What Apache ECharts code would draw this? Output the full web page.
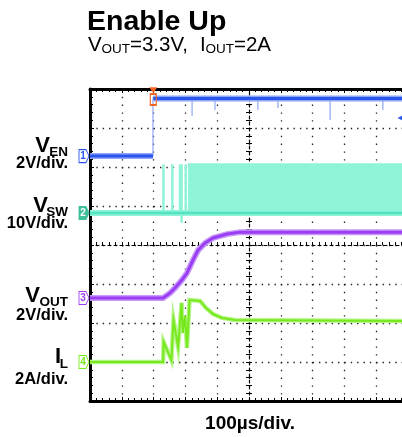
<!DOCTYPE html>
<html><head><meta charset="utf-8">
<script src="https://cdn.jsdelivr.net/npm/echarts@6/dist/echarts.min.js"></script>
<style>html,body{margin:0;padding:0;background:#fff}#c{width:402px;height:437px}</style>
</head><body><div id="c"></div>
<script>
// ---- data (time in µs from the left edge of the screen, 100 µs/div) ----
const venTrace   = [[0,0],[198,0],[198,'-'],[199,2.95],[1000,2.95]];          // V
const venThin    = [[198,0],[198,2.95],[198,'-'],[321,2.95],[321,2.05],[321,'-'],[393,2.95],[393,2.36],[393,'-'],
                    [528,2.95],[528,2.36],[528,'-'],[591,2.95],[591,2.46],[591,'-'],[755,2.95],[755,1.85],[755,'-'],[921,2.95],[921,2.36]];
const vswTrace   = [[0,0],[1000,0]];                                             // V
const vswSpikes  = [[231,0],[231,12.5],[231,'-'],[259,0],[259,12.5],[259,'-'],[283,0],[283,12.5],[283,'-'],
                    [288,-2.5],[288,12.5],[288,'-'],[301,0],[301,12.5]];
const vswBand    = [[308,12.5],[1000,12.5]];
const voutTrace  = [[0,0],[230,0],[252,0.26],[267,0.51],[289,0.92],[305,1.28],[324,1.95],[340,2.46],[362,2.82],
                    [387,3.08],[431,3.28],[472,3.38],[1000,3.38]];               // V
const ilTrace    = [[0,0],[230,0],[231.5,1.03],[256,0.10],[262.6,2.15],[277,0.77],[288,3.03],[292,1.49],[299,2.36],
                    [305,0.72],[313,3.18],[346,3.13],[365,2.77],[387,2.46],[415,2.26],[456,2.15],[1000,2.1]]; // A
const trigLevel  = [[978,1.95]];
const trigPos    = [[199,3.38],[199,2.9]];
const xTicks     = [0,1000,100];   // min, max, 100 µs/div

// ---- channel setup: position (div from centre) and scale (unit/div) ----
const chans = [
  {name:'1', off:2.28, scale:2,  color:'#2a56ee', light:'#8ea6f6'},
  {name:'2', off:0.82, scale:10, color:'#55e2c0', light:'#8ef3d7'},
  {name:'3', off:-1.36,scale:2,  color:'#9b3df2', light:'#c79af8'},
  {name:'4', off:-3.0, scale:2,  color:'#77e81c', light:'#b6f58a'}
];
const FONT = '"Liberation Sans", Arial, sans-serif';

const chart = echarts.init(document.getElementById('c'), null, {renderer:'canvas'});

const dotGridX = {show:true, lineStyle:{color:'#222', width:1.3, type:[1.4,6.4]}};
const dotGridY = {show:true, lineStyle:{color:'#222', width:1.3, type:[1.4,4.96]}};

function frameX(pos, extra){
  return Object.assign({type:'value', min:xTicks[0], max:xTicks[1], interval:xTicks[2], position:pos,
    axisLine:{show:true, onZero:false, lineStyle:{color:'#000', width:3}},
    axisTick:{show:true, inside:true, length:4, lineStyle:{color:'#000', width:1}},
    minorTick:{show:true, splitNumber:5, length:3, lineStyle:{color:'#000', width:1}},
    axisLabel:{show:false}, splitLine:{show:false}}, extra||{});
}
function frameY(pos, extra){
  return Object.assign({type:'value', min:-4, max:4, interval:1, position:pos,
    axisLine:{show:true, onZero:false, lineStyle:{color:'#000', width:3}},
    axisTick:{show:true, inside:true, length:4, lineStyle:{color:'#000', width:1}},
    minorTick:{show:true, splitNumber:5, length:3, lineStyle:{color:'#000', width:1}},
    axisLabel:{show:false}, splitLine:{show:false}}, extra||{});
}
const centreLine = {show:true, onZero:false, lineStyle:{color:'#000', width:1.2, type:[3,3]}};

const xAxes = [
  frameX('bottom', {splitLine:dotGridX}),
  frameX('top'),
  frameX('bottom', {offset:-156, axisLine:centreLine, axisTick:{show:true,inside:true,length:3,lineStyle:{color:'#000'}}, minorTick:{show:true,splitNumber:5,length:3,lineStyle:{color:'#000'}}}),
  frameX('top',    {offset:-156, axisLine:{show:false,onZero:false}, axisTick:{show:true,inside:false,length:3,lineStyle:{color:'#000'}}, minorTick:{show:true,splitNumber:5,length:3,lineStyle:{color:'#000'}}})
];
const yAxes = [
  frameY('left', {splitLine:dotGridY}),
  frameY('right', {offset:-159, axisLine:centreLine, axisTick:{show:true,inside:true,length:3,lineStyle:{color:'#000'}}, minorTick:{show:true,splitNumber:5,length:3,lineStyle:{color:'#000'}}}),
  frameY('right', {offset:-159, axisLine:{show:false,onZero:false}, axisTick:{show:true,inside:false,length:3,lineStyle:{color:'#000'}}, minorTick:{show:true,splitNumber:5,length:3,lineStyle:{color:'#000'}}})
];
chans.forEach(c => yAxes.push({type:'value', show:false, min:(-4-c.off)*c.scale, max:(4-c.off)*c.scale,
  axisLine:{onZero:false}, splitLine:{show:false}}));
const Y = i => 3 + i;

function chanMarker(c, filled){
  return {silent:true, animation:false, symbol:'path://M0,0L7,0L10,6.5L7,13L0,13Z', symbolSize:[10,13], symbolOffset:[-6,0],
    itemStyle:{color: filled ? '#3fbf9c' : '#fff', borderColor: filled ? '#3fbf9c' : c.color, borderWidth:1},
    label:{show:true, position:'inside', formatter:c.name, color: filled ? '#fff' : c.color, fontSize:10, fontWeight:'bold', fontFamily:FONT, offset:[-1,0]},
    data:[{coord:[0,0]}]};
}
function line(data, yi, color, width, extra){
  return Object.assign({type:'line', data:data, xAxisIndex:0, yAxisIndex:yi, symbol:'none', animation:false,
    silent:true, lineStyle:{color:color, width:width, cap:'butt', join:'miter'}, connectNulls:false}, extra||{});
}

const series = [
  // VSW
  line(vswBand, Y(1), chans[1].light, 2, {areaStyle:{color:chans[1].light, opacity:1, origin:'auto'}}),
  line(vswSpikes, Y(1), chans[1].light, 2.5),
  line(vswTrace, Y(1), chans[1].light, 6),
  line(vswTrace, Y(1), chans[1].color, 2.5, {markPoint:chanMarker(chans[1], true)}),
  // VEN
  line(venThin, Y(0), chans[0].light, 1.2),
  line(venTrace, Y(0), chans[0].light, 6),
  line(venTrace, Y(0), chans[0].color, 3, {markPoint:Object.assign(chanMarker(chans[0], false), {data:[
    {coord:[0,0]},
    {coord:trigPos[0], symbol:'triangle', symbolRotate:180, symbolSize:[8,6], symbolOffset:[0,0], itemStyle:{color:'#f26522', borderWidth:0}, label:{show:false}},
    {coord:trigPos[1], symbol:'rect', symbolSize:[6,11], symbolOffset:[0,0], itemStyle:{color:'rgba(0,0,0,0)', borderColor:'#f26522', borderWidth:1.5}, label:{show:false}},
    {coord:trigLevel[0], symbol:'triangle', symbolRotate:90, symbolSize:[7,7], symbolOffset:[0,0], itemStyle:{color:chans[0].color, borderWidth:0}, label:{show:false}}
  ]})}),
  // VOUT
  line(voutTrace, Y(2), chans[2].light, 6),
  line(voutTrace, Y(2), chans[2].color, 3, {markPoint:chanMarker(chans[2], false)}),
  // IL
  line(ilTrace, Y(3), chans[3].light, 4.5),
  line(ilTrace, Y(3), chans[3].color, 2, {markPoint:chanMarker(chans[3], false)})
];

function txt(text, x, y, size, bold, align){
  return {type:'text', x:x, y:y, silent:true, style:{text:text, fill:'#000', font:(bold?'bold ':'')+size+'px '+FONT,
    align:align||'left', verticalAlign:'middle'}};
}
const graphics = [
  txt('Enable Up', 87, 22, 28.5, true),
  txt('V', 88, 45, 20.5, false), txt('OUT', 101.5, 49, 13.5, false), txt('=3.3V,', 130, 45, 20.5, false),
  txt('I', 200, 45, 20.5, false), txt('OUT', 205.5, 49, 13.5, false), txt('=2A', 234, 45, 20.5, false),
  txt('V', 50, 146, 22, true, 'right'), txt('EN', 68, 152, 13.5, true, 'right'), txt('2V/div.', 68, 163, 16.5, true, 'right'),
  txt('V', 48, 206, 22, true, 'right'), txt('SW', 68, 212, 13.5, true, 'right'), txt('10V/div.', 68, 223, 16.5, true, 'right'),
  txt('V', 40, 296, 22, true, 'right'), txt('OUT', 68, 302, 13.5, true, 'right'), txt('2V/div.', 68, 315, 16.5, true, 'right'),
  txt('I', 61, 357, 22, true, 'right'), txt('L', 68, 364, 13.5, true, 'right'), txt('2A/div.', 68, 379, 16.5, true, 'right'),
  txt('100µs/div.', 250, 424, 19, true, 'center')
];

chart.setOption({
  animation:false,
  backgroundColor:'#fff',
  grid:{left:90, top:89, width:318, height:312, outerBoundsMode:'none', containLabel:false},
  xAxis:xAxes, yAxis:yAxes, series:series, graphic:graphics
});
</script></body></html>
